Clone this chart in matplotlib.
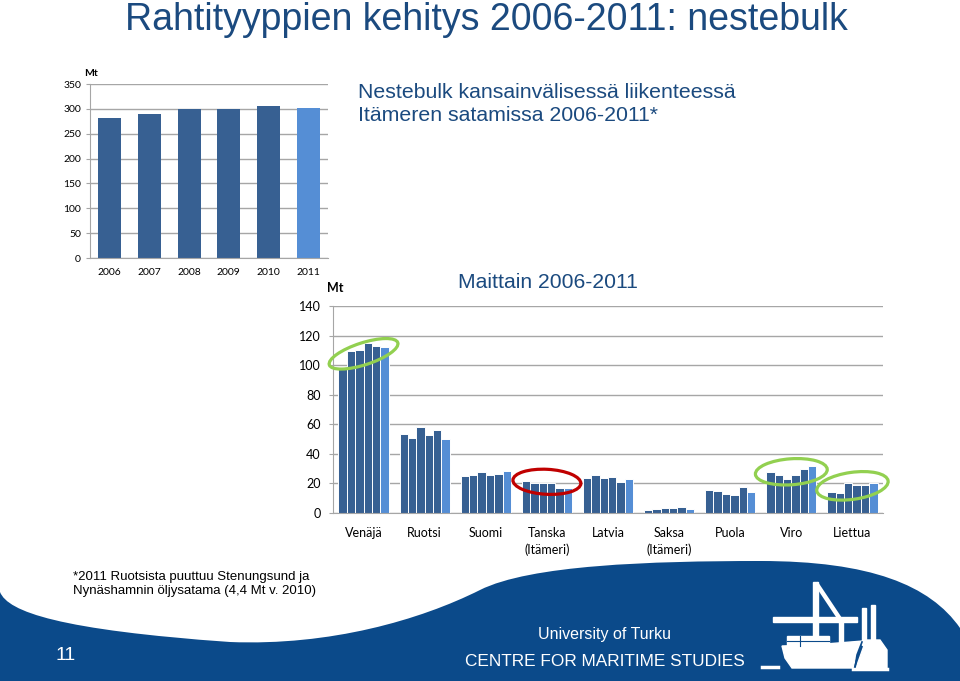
import matplotlib
matplotlib.use('Agg')
import matplotlib.pyplot as plt
import numpy as np
from matplotlib.patches import Ellipse, Polygon, Rectangle, PathPatch
from matplotlib.path import Path

# data
years = ['2006', '2007', '2008', '2009', '2010', '2011']
total = [282, 290, 300, 300, 305, 301]

countries = ['Venäjä', 'Ruotsi', 'Suomi', 'Tanska\n(Itämeri)', 'Latvia',
             'Saksa\n(Itämeri)', 'Puola', 'Viro', 'Liettua']
venaja = [98, 109.5, 110, 115, 113, 112.5]
ruotsi = [53.3, 51, 58.5, 52.7, 56, 50.2]
suomi = [25.1, 25.7, 27.8, 26.0, 26.6, 28.4]
tanska = [21.4, 20.1, 20.1, 20.1, 16.9, 17.2]
latvia = [23.7, 25.5, 23.9, 24.4, 21.2, 23.0]
saksa = [1.8, 2.5, 3.6, 3.1, 4.0, 2.7]
puola = [15.3, 14.8, 12.8, 11.9, 17.3, 13.9]
viro = [27.6, 25.6, 22.7, 25.6, 29.7, 31.9]
liettua = [13.9, 13.5, 20.0, 18.7, 18.7, 20.0]
by_country = [venaja, ruotsi, suomi, tanska, latvia, saksa, puola, viro, liettua]

dark = '#376092'
light = '#558ed5'
navy = '#1b4a7f'
band = '#0b4a8a'
grid = '#a6a6a6'
year_colors = [dark] * 5 + [light]

W, H = 960, 681
fig = plt.figure(figsize=(W / 100, H / 100), dpi=100)
fig.patch.set_facecolor('white')

# background layer in pixel coords
bg = fig.add_axes([0, 0, 1, 1], zorder=0)
bg.set_xlim(0, W)
bg.set_ylim(H, 0)
bg.axis('off')

verts = [(0, 592), (8, 612), (60, 630), (230, 642),
         (330, 646), (420, 620), (480, 590),
         (530, 565), (650, 561), (760, 561),
         (870, 561), (930, 585), (960, 628),
         (960, H), (0, H), (0, 592)]
codes = [Path.MOVETO] + [Path.CURVE4] * 12 + [Path.LINETO] * 2 + [Path.CLOSEPOLY]
bg.add_patch(PathPatch(Path(verts, codes), facecolor=band, edgecolor='none'))

# logo (rough)
wc = 'white'
bg.add_patch(Rectangle((813, 582), 4.5, 65, color=wc))
bg.plot([816, 840], [583, 619], color=wc, lw=3.2, solid_capstyle='butt')
bg.add_patch(Rectangle((839, 618), 4, 29, color=wc))
bg.add_patch(Rectangle((773, 617), 84, 4.5, color=wc))
bg.add_patch(Rectangle((862, 608), 4, 37, color=wc))
bg.add_patch(Rectangle((871, 605), 4, 40, color=wc))
bg.add_patch(Polygon([(782, 646), (813, 645), (863, 641), (858, 650), (855, 660),
                      (853, 668), (792, 668), (785, 658)], closed=True, color=wc))
bg.add_patch(Rectangle((787, 636), 42, 10, color=wc))
bg.plot([787, 829], [641, 641], color=band, lw=0.8)
bg.plot([800, 800], [636, 646], color=band, lw=0.8)
bg.add_patch(Polygon([(866, 640), (880, 640), (887, 650), (887, 668), (856, 668),
                      (861, 654)], closed=True, color=wc))
bg.plot([862, 857, 855], [642, 655, 668], color=band, lw=1.2)
bg.plot([762, 778], [667, 667], color=wc, lw=2.5)
bg.plot([853, 887], [668.5, 668.5], color=wc, lw=2.5)

# texts
bg.text(486, 30, 'Rahtityyppien kehitys 2006-2011: nestebulk', ha='center', va='baseline',
        fontsize=27, color=navy, family='Liberation Sans')
bg.text(358, 104, 'Nestebulk kansainvälisessä liikenteessä\nItämeren satamissa 2006-2011*',
        ha='left', va='center', fontsize=15.3, color=navy, family='Liberation Sans',
        linespacing=1.3)
bg.text(548, 283, 'Maittain 2006-2011', ha='center', va='center', fontsize=15.2,
        color=navy, family='Liberation Sans')
bg.text(73, 584, '*2011 Ruotsista puuttuu Stenungsund ja\nNynäshamnin öljysatama (4,4 Mt v. 2010)',
        ha='left', va='center', fontsize=9.5, color='black',
        family='Liberation Sans', linespacing=1.15)
bg.text(66, 655, '11', ha='center', va='center', fontsize=14, color='white',
        family='Liberation Sans')
bg.text(604, 635, 'University of Turku', ha='center', va='center', fontsize=11.5,
        color='white', family='Liberation Sans')
bg.text(605, 662, 'CENTRE FOR MARITIME STUDIES', ha='center', va='center', fontsize=12.4,
        color='white', family='Liberation Sans')
bg.text(91, 73, 'Mt', ha='center', va='center', fontsize=7.5, fontweight='bold', family='Lato')
bg.text(335, 288, 'Mt', ha='center', va='center', fontsize=9, fontweight='bold', family='Lato')


def style_axes(ax, size):
    for s in ['top', 'right']:
        ax.spines[s].set_visible(False)
    ax.spines['left'].set_color(grid)
    ax.spines['bottom'].set_color(grid)
    ax.yaxis.grid(True, color=grid, lw=1)
    ax.set_axisbelow(True)
    ax.tick_params(axis='y', colors=grid, length=3, labelsize=size, labelcolor='black')
    ax.tick_params(axis='x', length=0, labelsize=size, labelcolor='black')
    for lab in ax.get_xticklabels() + ax.get_yticklabels():
        lab.set_family('Lato')


# top chart
ax1 = fig.add_axes([90 / W, 1 - 258 / H, 238 / W, 174 / H], zorder=1)
x1 = np.arange(len(years))
ax1.bar(x1, total, width=0.58, color=year_colors)
ax1.set_xlim(-0.5, len(years) - 0.5)
ax1.set_ylim(0, 350)
ax1.set_yticks(range(0, 351, 50))
ax1.set_xticks(x1)
ax1.set_xticklabels(years)
style_axes(ax1, 7.5)
ax1.tick_params(axis='x', pad=7)

# bottom chart
ax2 = fig.add_axes([333 / W, 1 - 513 / H, 550 / W, 207 / H], zorder=1)
bw = 0.137
for i, vals in enumerate(by_country):
    xs = i + (np.arange(len(vals)) - 2.5) * bw
    ax2.bar(xs, vals, width=bw, color=year_colors, edgecolor='white', linewidth=0.7)
ax2.set_xlim(-0.5, len(countries) - 0.5)
ax2.set_ylim(0, 140)
ax2.set_yticks(range(0, 141, 20))
ax2.set_xticks(range(len(countries)))
ax2.set_xticklabels(countries, va='top', linespacing=1.45)
style_axes(ax2, 9)
ax2.tick_params(axis='x', pad=10)
ax2.tick_params(axis='y', pad=6)

# highlight ellipses: (group, y offset, width px, height px, angle deg, colour)
rings = [(0, -2.0, 72, 22, 18, '#92d050'),
         (3, 1.8, 68, 25, -3, '#c00000'),
         (7, 0.7, 72, 26, 4, '#92d050'),
         (8, 0.9, 72, 27, 8, '#92d050')]
top = fig.add_axes([0, 0, 1, 1], zorder=2)
top.set_xlim(0, W)
top.set_ylim(H, 0)
top.axis('off')
top.patch.set_alpha(0)
for g, dy, ew, eh, ang, col in rings:
    cx, cy = ax2.transData.transform((g, np.mean(by_country[g]) + dy))
    top.add_patch(Ellipse((cx, H - cy), ew, eh, angle=-ang, fill=False,
                          edgecolor=col, lw=2.3))

fig.savefig('out.png', dpi=100)
